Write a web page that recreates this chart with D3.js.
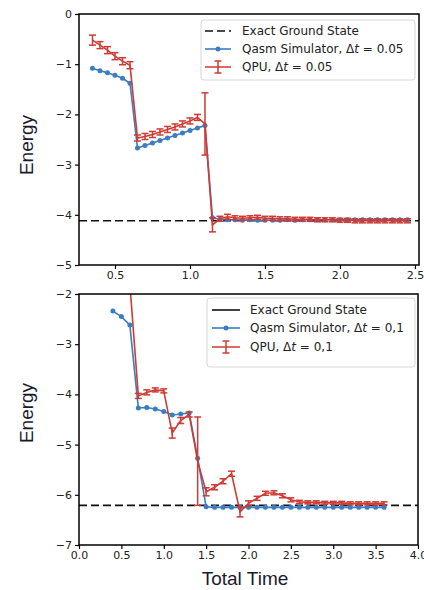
<!DOCTYPE html>
<html lang="en">
<head>
    <meta charset="UTF-8">
    <title>Energy vs total time</title>
    <style>
        body { margin: 0; background: #fff; }
        svg { display: block; }
        .tick text { font-family: 'DejaVu Sans', sans-serif; font-size: 11px; fill: #222; }
        .tick line { stroke: #000; stroke-width: 1.2; }
        .legend text { font-family: 'DejaVu Sans', sans-serif; font-size: 12px; fill: #222; }
        .axis-label { font-family: 'Liberation Sans', Arial, sans-serif; font-size: 19px; fill: #1a1a2e; }
    </style>
</head>
<body>
    <div id="chart"></div>

    <script src="https://d3js.org/d3.v7.min.js"></script>
    <script>
        // ---- top panel, dt = 0.05 ----
        const timesTop = [0.35, 0.40, 0.45, 0.50, 0.55, 0.60, 0.65, 0.70, 0.75, 0.80, 0.85, 0.90, 0.95, 1.00, 1.05, 1.10,
            1.15, 1.20, 1.25, 1.30, 1.35, 1.40, 1.45, 1.50, 1.55, 1.60, 1.65, 1.70, 1.75, 1.80, 1.85, 1.90, 1.95, 2.00,
            2.05, 2.10, 2.15, 2.20, 2.25, 2.30, 2.35, 2.40, 2.45]
        const qasmTop = [-1.08, -1.13, -1.17, -1.22, -1.28, -1.38,
            -2.67, -2.62, -2.57, -2.52, -2.47, -2.42, -2.37, -2.32, -2.27, -2.22,
            -4.06, -4.09, -4.10, -4.10, -4.11, -4.10, -4.11, -4.11, -4.11, -4.11, -4.10, -4.11, -4.10, -4.10, -4.10, -4.10,
            -4.10, -4.10, -4.10, -4.10, -4.10, -4.10, -4.10, -4.10, -4.10, -4.10, -4.10]
        const qpuTop = [-0.52, -0.62, -0.72, -0.84, -0.94, -1.02,
            -2.47, -2.44, -2.40, -2.35, -2.30, -2.25, -2.19, -2.13, -2.06, -2.19,
            -4.20, -4.08, -4.04, -4.06, -4.07, -4.06, -4.05, -4.07, -4.07, -4.08, -4.08, -4.09, -4.09, -4.09, -4.10, -4.10,
            -4.10, -4.11, -4.11, -4.12, -4.12, -4.12, -4.12, -4.12, -4.12, -4.12, -4.12]
        const qpuErrTop = [0.10, 0.07, 0.07, 0.07, 0.07, 0.07,
            0.06, 0.06, 0.06, 0.06, 0.06, 0.06, 0.06, 0.06, 0.06, 0.62,
            0.14, 0.05, 0.05, 0.04, 0.04, 0.04, 0.04, 0.04, 0.04, 0.04, 0.04, 0.04, 0.04, 0.04, 0.04, 0.04,
            0.04, 0.04, 0.04, 0.04, 0.04, 0.04, 0.04, 0.04, 0.04, 0.04, 0.04]
        const groundTop = -4.12
        const xTicksTop = [0.5, 1.0, 1.5, 2.0, 2.5]
        const yTicksTop = [0, -1, -2, -3, -4, -5]
        const legendTop = ['Exact Ground State', 'Qasm Simulator, ', 'QPU, ']
        const dtTop = '0.05'

        // ---- bottom panel, dt = 0.1 ----
        const timesBottom = [0.4, 0.5, 0.6, 0.7, 0.8, 0.9, 1.0, 1.1, 1.2, 1.3, 1.4, 1.5, 1.6, 1.7, 1.8, 1.9, 2.0,
            2.1, 2.2, 2.3, 2.4, 2.5, 2.6, 2.7, 2.8, 2.9, 3.0, 3.1, 3.2, 3.3, 3.4, 3.5, 3.6]
        const qasmBottom = [-2.34, -2.45, -2.62, -4.27, -4.26, -4.29, -4.34, -4.41, -4.39, -4.37, -5.27, -6.24,
            -6.25, -6.25, -6.25, -6.25, -6.25, -6.25, -6.25, -6.25, -6.25, -6.25, -6.25,
            -6.25, -6.25, -6.25, -6.25, -6.25, -6.25, -6.25, -6.25, -6.25, -6.25]
        const qpuTimesBottom = [0.6, 0.7, 0.8, 0.9, 1.0, 1.1, 1.2, 1.3, 1.4, 1.5, 1.6, 1.7, 1.8, 1.9, 2.0,
            2.1, 2.2, 2.3, 2.4, 2.5, 2.6, 2.7, 2.8, 2.9, 3.0, 3.1, 3.2, 3.3, 3.4, 3.5, 3.6]
        const qpuBottom = [-1.8, -4.03, -3.96, -3.91, -3.93, -4.77, -4.52, -4.40, -5.33,
            -5.94, -5.85, -5.73, -5.58, -6.34, -6.17, -6.07, -5.97, -5.96, -6.02, -6.10,
            -6.14, -6.15, -6.15, -6.16, -6.16, -6.16, -6.17, -6.17, -6.17, -6.17, -6.17]
        const qpuErrBottom = [0.05, 0.05, 0.05, 0.04, 0.04, 0.10, 0.06, 0.05, 0.88,
            0.08, 0.05, 0.05, 0.05, 0.10, 0.05, 0.04, 0.04, 0.04, 0.04, 0.04,
            0.03, 0.03, 0.03, 0.03, 0.03, 0.03, 0.03, 0.03, 0.03, 0.03, 0.03]
        const groundBottom = -6.21
        const xTicksBottom = [0, 0.5, 1.0, 1.5, 2.0, 2.5, 3.0, 3.5, 4.0]
        const yTicksBottom = [-2, -3, -4, -5, -6, -7]
        const legendBottom = ['Exact Ground State', 'Qasm Simulator, ', 'QPU, ']
        const dtBottom = '0,1'

        const width = 424
        const height = 590
        const blue = '#3b7dc2'
        const red = '#d03a33'

        const svg = d3.select('#chart')
            .append('svg')
            .attr('width', width)
            .attr('height', height)

        const panels = [
            {
                id: 'top', left: 79, right: 419, top: 14, bottom: 265,
                xDomain: [0.26, 2.527], yDomain: [-5, 0],
                times: timesTop, qasm: qasmTop, qpuTimes: timesTop, qpu: qpuTop, err: qpuErrTop,
                ground: groundTop, xTicks: xTicksTop, yTicks: yTicksTop,
                legend: legendTop, dt: dtTop, groundDash: '8,4',
                box: { x: 201, y: 20, w: 214, h: 60, rows: [31, 49, 67], line: [205, 231], text: 242 }
            },
            {
                id: 'bottom', left: 79, right: 418, top: 294, bottom: 545,
                xDomain: [0, 4], yDomain: [-7, -2],
                times: timesBottom, qasm: qasmBottom, qpuTimes: qpuTimesBottom, qpu: qpuBottom, err: qpuErrBottom,
                ground: groundBottom, xTicks: xTicksBottom, yTicks: yTicksBottom,
                legend: legendBottom, dt: dtBottom, groundDash: null,
                box: { x: 207, y: 298, w: 208, h: 69, rows: [310, 328, 347], line: [212, 240], text: 250 }
            }
        ]

        panels.forEach(drawPanel)

        // axis titles
        svg.append('text').attr('class', 'axis-label')
            .attr('text-anchor', 'middle')
            .attr('transform', 'translate(33, 145) rotate(-90)')
            .text('Energy')
        svg.append('text').attr('class', 'axis-label')
            .attr('text-anchor', 'middle')
            .attr('transform', 'translate(33, 413) rotate(-90)')
            .text('Energy')
        svg.append('text').attr('class', 'axis-label')
            .attr('text-anchor', 'middle')
            .attr('x', 245)
            .attr('y', 585)
            .text('Total Time')

        function drawPanel(p) {
            const x = d3.scaleLinear().domain(p.xDomain).range([p.left, p.right])
            const y = d3.scaleLinear().domain(p.yDomain).range([p.bottom, p.top])

            const g = svg.append('g').attr('class', 'panel-' + p.id)

            g.append('clipPath').attr('id', 'clip-' + p.id)
                .append('rect')
                .attr('x', p.left).attr('y', p.top)
                .attr('width', p.right - p.left).attr('height', p.bottom - p.top)

            const plot = g.append('g').attr('clip-path', `url(#clip-${p.id})`)

            // exact ground state
            plot.append('line')
                .attr('x1', p.left).attr('x2', p.right)
                .attr('y1', y(p.ground)).attr('y2', y(p.ground))
                .attr('stroke', '#111')
                .attr('stroke-width', 1.6)
                .attr('stroke-dasharray', '8,4')

            // qasm simulator
            const qasmData = p.times.map((t, i) => ({ t, v: p.qasm[i] }))
            const line = d3.line().x(d => x(d.t)).y(d => y(d.v))
            plot.append('path')
                .datum(qasmData)
                .attr('fill', 'none')
                .attr('stroke', blue)
                .attr('stroke-width', 1.6)
                .attr('d', line)
            plot.append('g')
                .selectAll('circle')
                .data(qasmData)
                .join('circle')
                .attr('cx', d => x(d.t))
                .attr('cy', d => y(d.v))
                .attr('r', 2.5)
                .attr('fill', blue)

            // qpu with error bars
            const qpuData = p.qpuTimes.map((t, i) => ({ t, v: p.qpu[i], e: p.err[i] }))
            plot.append('path')
                .datum(qpuData)
                .attr('fill', 'none')
                .attr('stroke', red)
                .attr('stroke-width', 1.6)
                .attr('d', line)
            const bars = plot.append('g')
                .attr('stroke', red)
                .attr('stroke-width', 1.5)
                .selectAll('g')
                .data(qpuData)
                .join('g')
            bars.append('line')
                .attr('x1', d => x(d.t)).attr('x2', d => x(d.t))
                .attr('y1', d => y(d.v - d.e)).attr('y2', d => y(d.v + d.e))
            bars.append('line')
                .attr('x1', d => x(d.t) - 3.5).attr('x2', d => x(d.t) + 3.5)
                .attr('y1', d => y(d.v - d.e)).attr('y2', d => y(d.v - d.e))
            bars.append('line')
                .attr('x1', d => x(d.t) - 3.5).attr('x2', d => x(d.t) + 3.5)
                .attr('y1', d => y(d.v + d.e)).attr('y2', d => y(d.v + d.e))

            // axes
            const xAxis = d3.axisBottom(x)
                .tickValues(p.xTicks)
                .tickSize(4)
                .tickPadding(2)
                .tickFormat(d3.format('.1f'))
            const yAxis = d3.axisLeft(y)
                .tickValues(p.yTicks)
                .tickSize(4)
                .tickPadding(3)
                .tickFormat(d3.format('d'))
            g.append('g')
                .attr('transform', `translate(0, ${p.bottom})`)
                .call(xAxis)
                .call(a => a.select('.domain').remove())
            g.append('g')
                .attr('transform', `translate(${p.left}, 0)`)
                .call(yAxis)
                .call(a => a.select('.domain').remove())

            g.append('rect')
                .attr('x', p.left).attr('y', p.top)
                .attr('width', p.right - p.left).attr('height', p.bottom - p.top)
                .attr('fill', 'none')
                .attr('stroke', '#000')
                .attr('stroke-width', 1.5)

            drawLegend(g, p)
        }

        function drawLegend(g, p) {
            const b = p.box
            const lg = g.append('g').attr('class', 'legend')
            lg.append('rect')
                .attr('x', b.x).attr('y', b.y)
                .attr('width', b.w).attr('height', b.h)
                .attr('rx', 3)
                .attr('fill', 'rgba(255,255,255,0.85)')
                .attr('stroke', '#d8d8d8')
                .attr('stroke-width', 1)

            const [x0, x1] = b.line
            const xm = (x0 + x1) / 2

            lg.append('line')
                .attr('x1', x0).attr('x2', x1)
                .attr('y1', b.rows[0]).attr('y2', b.rows[0])
                .attr('stroke', '#111').attr('stroke-width', 1.6)
                .attr('stroke-dasharray', p.groundDash)

            lg.append('line')
                .attr('x1', x0).attr('x2', x1)
                .attr('y1', b.rows[1]).attr('y2', b.rows[1])
                .attr('stroke', blue).attr('stroke-width', 1.6)
            lg.append('circle')
                .attr('cx', xm).attr('cy', b.rows[1]).attr('r', 2.5)
                .attr('fill', blue)

            const eg = lg.append('g').attr('stroke', red).attr('stroke-width', 1.5)
            eg.append('line')
                .attr('x1', x0).attr('x2', x1)
                .attr('y1', b.rows[2]).attr('y2', b.rows[2])
            eg.append('line')
                .attr('x1', xm).attr('x2', xm)
                .attr('y1', b.rows[2] - 6).attr('y2', b.rows[2] + 6)
            eg.append('line')
                .attr('x1', xm - 3.5).attr('x2', xm + 3.5)
                .attr('y1', b.rows[2] - 6).attr('y2', b.rows[2] - 6)
            eg.append('line')
                .attr('x1', xm - 3.5).attr('x2', xm + 3.5)
                .attr('y1', b.rows[2] + 6).attr('y2', b.rows[2] + 6)

            p.legend.forEach((label, i) => {
                const t = lg.append('text')
                    .attr('x', b.text)
                    .attr('y', b.rows[i])
                    .attr('dy', '0.35em')
                    .text(label)
                if (i > 0) {
                    t.append('tspan').text('Δ')
                    t.append('tspan').attr('font-style', 'italic').text('t')
                    t.append('tspan').text(' = ' + p.dt)
                }
            })
        }
    </script>
</body>
</html>
